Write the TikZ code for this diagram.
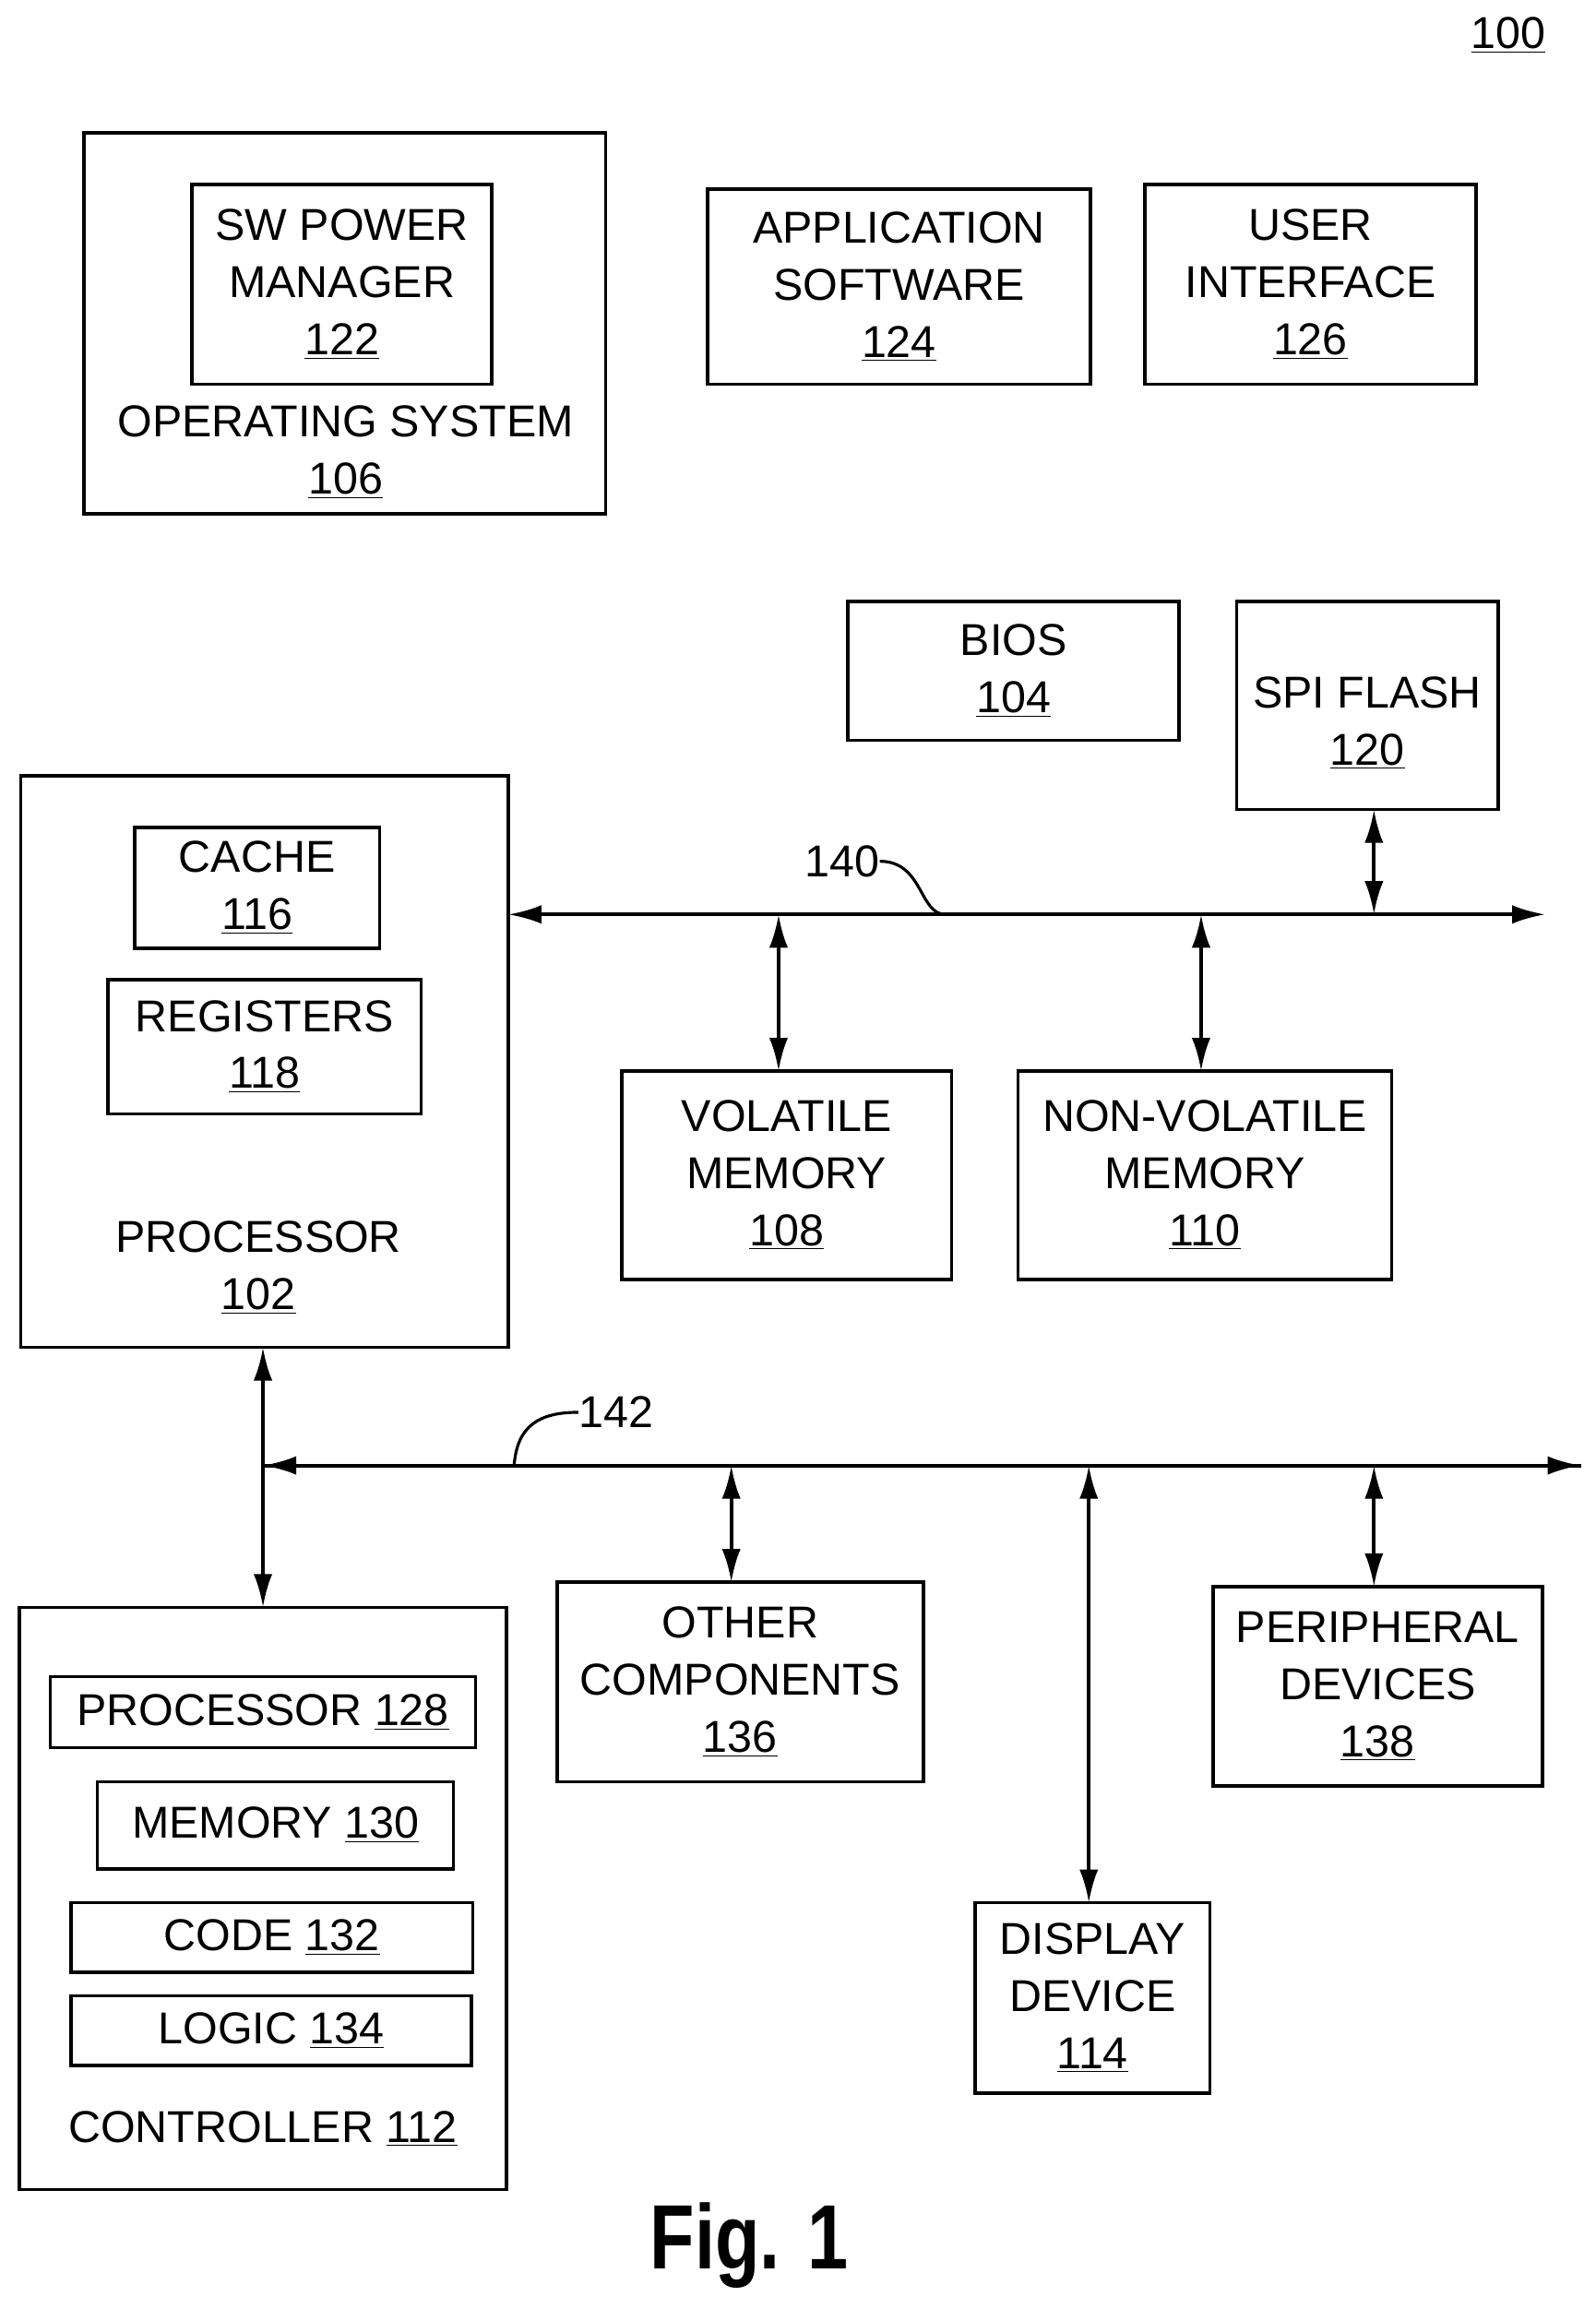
\documentclass[tikz,border=0pt]{standalone}
\usepackage{fontspec}
\setmainfont{Liberation Sans}
\usetikzlibrary{arrows.meta,positioning}
\tikzset{
  box/.style={draw,line width=1.6pt},
  lbl/.style={align=center,font=\fontsize{21.5}{27.5}\selectfont,inner sep=0pt},
  dbl/.style={line width=1.8pt,{Latex[length=16pt,width=9pt]}-{Latex[length=16pt,width=9pt]}},
  lead/.style={line width=1.4pt}
}
\newcommand{\ul}[1]{\underline{#1}}
\begin{document}
\begin{tikzpicture}[x=0.025cm,y=-0.025cm]
        \useasboundingbox (0,0) rectangle (1080,1563);
        \node[lbl] (fignum) at (1021,24) {\ul{100}};

        % systeme d'exploitation
        \draw[box] (57,90) rectangle (410,348);
        \draw[box] (130,125) rectangle node[lbl] (swpm) {SW POWER\\MANAGER\\\ul{122}} (333,260);
        \node[lbl] (os) at (234,306) {OPERATING SYSTEM\\\ul{106}};
        \draw[box] (479,128) rectangle node[lbl] (app) {APPLICATION\\SOFTWARE\\\ul{124}} (738,260);
        \draw[box] (775,125) rectangle node[lbl] (ui) {USER\\INTERFACE\\\ul{126}} (999,260);

        % bios et flash
        \draw[box] (574,407) rectangle node[lbl] (bios) {BIOS\\\ul{104}} (798,501);
        \draw[box] (837,407) rectangle node[lbl,yshift=-0.3cm] (spi) {SPI FLASH\\\ul{120}} (1014,548);

        % processeur
        \draw[box] (14,525) rectangle (344,912);
        \draw[box] (91,560) rectangle node[lbl] (cache) {CACHE\\\ul{116}} (257,642);
        \draw[box] (73,663) rectangle node[lbl] (regs) {REGISTERS\\\ul{118}} (285,754);
        \node[lbl] (proc) at (175,858) {PROCESSOR\\\ul{102}};

        % memoires
        \draw[box] (421,725) rectangle node[lbl] (vol) {VOLATILE\\MEMORY\\\ul{108}} (644,866);
        \draw[box] (689,725) rectangle node[lbl] (nvol) {NON-VOLATILE\\MEMORY\\\ul{110}} (942,866);

        % controleur
        \draw[box] (13,1088) rectangle (343,1482);
        \draw[box] (34,1135) rectangle node[lbl] (cproc) {PROCESSOR \ul{128}} (322,1183);
        \draw[box] (66,1206) rectangle node[lbl] (cmem) {MEMORY \ul{130}} (307,1265);
        \draw[box] (48,1288) rectangle node[lbl] (code) {CODE \ul{132}} (320,1335);
        \draw[box] (48,1351) rectangle node[lbl] (logic) {LOGIC \ul{134}} (319,1398);
        \node[lbl] (ctrl) at (178,1441) {CONTROLLER \ul{112}};

        % autres peripheriques
        \draw[box] (377,1071) rectangle node[lbl] (other) {OTHER\\COMPONENTS\\\ul{136}} (625,1206);
        \draw[box] (660,1288) rectangle node[lbl] (disp) {DISPLAY\\DEVICE\\\ul{114}} (819,1417);
        \draw[box] (821,1074) rectangle node[lbl] (periph) {PERIPHERAL\\DEVICES\\\ul{138}} (1044,1209);

        % points du bus 140
        \coordinate (b1Left) at (344,619);
        \coordinate (b1Right) at (1046,619);
        \coordinate (b1Vol) at (527,619);
        \coordinate (b1Nvol) at (813,619);
        \coordinate (b1Spi) at (930,619);
        \coordinate (volTop) at (527,725);
        \coordinate (nvolTop) at (813,725);
        \coordinate (spiBot) at (930,548);

        % points du bus 142
        \coordinate (b2Left) at (178,992);
        \coordinate (b2Right) at (1070,992);
        \coordinate (procBot) at (178,912);
        \coordinate (ctrlTop) at (178,1088);
        \coordinate (b2Other) at (495,992);
        \coordinate (b2Disp) at (737,992);
        \coordinate (b2Per) at (930,992);
        \coordinate (otherTop) at (495,1071);
        \coordinate (dispTop) at (737,1288);
        \coordinate (perTop) at (930,1074);

        % liens
        \draw[dbl] (b1Left) -- (b1Right);
        \draw[dbl] (b1Vol) -- (volTop);
        \draw[dbl] (b1Nvol) -- (nvolTop);
        \draw[dbl] (spiBot) -- (b1Spi);
        \draw[dbl] (procBot) -- (ctrlTop);
        \draw[line width=1.8pt,-{Latex[length=16pt,width=9pt]}] (b2Left) -- (b2Right);
        \draw[line width=1.8pt,-{Latex[length=16pt,width=9pt]}] (b2Right) -- (b2Left);
        \draw[dbl] (b2Other) -- (otherTop);
        \draw[dbl] (b2Disp) -- (dispTop);
        \draw[dbl] (b2Per) -- (perTop);

        % references des bus
        \node[lbl] (n140) at (570,583) {140};
        \coordinate (b1Mark) at (640,619);
        \draw[lead] (n140.east) .. controls (625,583) and (622,619) .. (b1Mark);
        \node[lbl] (n142) at (417,956) {142};
        \coordinate (b2Mark) at (348,992);
        \draw[lead] (n142.west) .. controls (365,956) and (350,965) .. (b2Mark);

        \node[font=\bfseries\fontsize{44}{50}\selectfont] (fig) at (507,1520) {\scalebox{0.8}[1]{Fig. 1}};
\end{tikzpicture}
\end{document}
